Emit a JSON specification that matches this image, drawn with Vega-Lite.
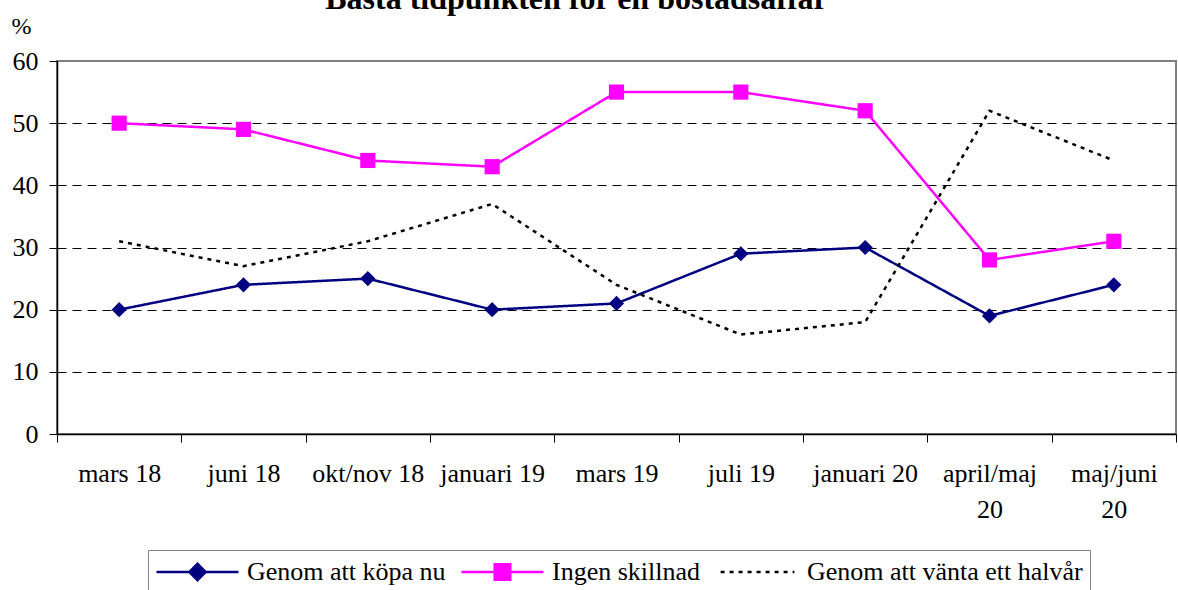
{
  "$schema": "https://vega.github.io/schema/vega-lite/v6.json",
  "autosize": {"type": "none"},
  "width": 1119,
  "height": 373,
  "padding": {"left": 57, "top": 61, "right": 2, "bottom": 156},
  "background": "white",
  "title": {
    "text": "Bästa tidpunkten för en bostadsaffär",
    "font": "Liberation Serif",
    "fontSize": 32,
    "fontWeight": "bold",
    "color": "black",
    "anchor": "middle",
    "dx": -40,
    "offset": -2
  },
  "config": {
    "font": "Liberation Serif",
    "view": {"stroke": "#808080", "strokeWidth": 2},
    "axis": {
      "labelFont": "Liberation Serif",
      "labelFontSize": 26,
      "labelColor": "black",
      "domainColor": "black",
      "domainWidth": 1.5,
      "tickColor": "black",
      "tickWidth": 1
    },
    "legend": {
      "labelFont": "Times New Roman",
      "labelFontSize": 26,
      "labelColor": "black",
      "labelLimit": 1000
    }
  },
  "data": {
    "values": [
      {"period": "mars 18", "series": "Genom att köpa nu", "value": 20},
      {"period": "juni 18", "series": "Genom att köpa nu", "value": 24},
      {"period": "okt/nov 18", "series": "Genom att köpa nu", "value": 25},
      {"period": "januari 19", "series": "Genom att köpa nu", "value": 20},
      {"period": "mars 19", "series": "Genom att köpa nu", "value": 21},
      {"period": "juli 19", "series": "Genom att köpa nu", "value": 29},
      {"period": "januari 20", "series": "Genom att köpa nu", "value": 30},
      {"period": "april/maj 20", "series": "Genom att köpa nu", "value": 19},
      {"period": "maj/juni 20", "series": "Genom att köpa nu", "value": 24},
      {"period": "mars 18", "series": "Ingen skillnad", "value": 50},
      {"period": "juni 18", "series": "Ingen skillnad", "value": 49},
      {"period": "okt/nov 18", "series": "Ingen skillnad", "value": 44},
      {"period": "januari 19", "series": "Ingen skillnad", "value": 43},
      {"period": "mars 19", "series": "Ingen skillnad", "value": 55},
      {"period": "juli 19", "series": "Ingen skillnad", "value": 55},
      {"period": "januari 20", "series": "Ingen skillnad", "value": 52},
      {"period": "april/maj 20", "series": "Ingen skillnad", "value": 28},
      {"period": "maj/juni 20", "series": "Ingen skillnad", "value": 31},
      {"period": "mars 18", "series": "Genom att vänta ett halvår", "value": 31},
      {"period": "juni 18", "series": "Genom att vänta ett halvår", "value": 27},
      {"period": "okt/nov 18", "series": "Genom att vänta ett halvår", "value": 31},
      {"period": "januari 19", "series": "Genom att vänta ett halvår", "value": 37},
      {"period": "mars 19", "series": "Genom att vänta ett halvår", "value": 24},
      {"period": "juli 19", "series": "Genom att vänta ett halvår", "value": 16},
      {"period": "januari 20", "series": "Genom att vänta ett halvår", "value": 18},
      {"period": "april/maj 20", "series": "Genom att vänta ett halvår", "value": 52},
      {"period": "maj/juni 20", "series": "Genom att vänta ett halvår", "value": 44}
    ]
  },
  "encoding": {
    "x": {
      "field": "period",
      "type": "ordinal",
      "sort": ["mars 18", "juni 18", "okt/nov 18", "januari 19", "mars 19", "juli 19", "januari 20", "april/maj 20", "maj/juni 20"],
      "scale": {"type": "band", "paddingInner": 0, "paddingOuter": 0},
      "axis": {
        "title": null,
        "labelAngle": 0,
        "tickBand": "extent",
        "tickSize": 8,
        "labelPadding": 18,
        "labelBaseline": "top",
        "labelLineHeight": 36,
        "labelExpr": "datum.label == 'april/maj 20' ? ['april/maj', '20'] : datum.label == 'maj/juni 20' ? ['maj/juni', '20'] : datum.label"
      }
    },
    "y": {
      "field": "value",
      "type": "quantitative",
      "scale": {"domain": [0, 60], "nice": false},
      "axis": {
        "values": [0, 10, 20, 30, 40, 50, 60],
        "title": "%",
        "titleAngle": 0,
        "titleFont": "Liberation Serif",
        "titleFontSize": 24,
        "titleFontWeight": "normal",
        "titleColor": "black",
        "titleAlign": "left",
        "titleBaseline": "alphabetic",
        "titleX": -46,
        "titleY": -28,
        "tickSize": 8,
        "labelPadding": 11,
        "grid": true,
        "gridColor": {"condition": {"test": "datum.value == 0 || datum.value == 60", "value": "transparent"}, "value": "black"},
        "gridDash": [9, 6],
        "gridWidth": 1
      }
    }
  },
  "layer": [
    {
      "mark": {"type": "line", "strokeWidth": 2.5},
      "encoding": {
        "color": {
          "field": "series",
          "type": "nominal",
          "sort": ["Genom att köpa nu", "Ingen skillnad", "Genom att vänta ett halvår"],
          "scale": {
            "domain": ["Genom att köpa nu", "Ingen skillnad", "Genom att vänta ett halvår"],
            "range": ["#000080", "#FF00FF", "#000000"]
          },
          "legend": {
            "title": null,
            "orient": "none",
            "legendX": 91,
            "legendY": 489,
            "direction": "horizontal",
            "columns": 3,
            "columnPadding": 14,
            "labelFont": "Times New Roman",
            "labelFontSize": 26,
            "labelColor": "black",
            "labelLimit": 1000,
            "labelOffset": 7,
            "symbolSize": 6724,
            "symbolStrokeWidth": 2.5,
            "clipHeight": 30,
            "strokeColor": "#808080",
            "fillColor": "white",
            "padding": 7,
            "encode": {
              "labels": {
                "update": {
                  "font": {"value": "serif"}
                }
              },
              "symbols": {
                "update": {
                  "shape": {"signal": "datum.value == 'Genom att köpa nu' ? 'M-1,0H1M0,-0.2L0.2,0L0,0.2L-0.2,0Z' : datum.value == 'Ingen skillnad' ? 'M-1,0H1M-0.19,-0.19H0.19V0.19H-0.19Z' : 'M-0.9,0H0.9'"},
                  "fill": {"signal": "datum.value == 'Genom att köpa nu' ? '#000080' : datum.value == 'Ingen skillnad' ? '#FF00FF' : 'transparent'"},
                  "strokeDash": {"signal": "datum.value == 'Genom att vänta ett halvår' ? [4, 5] : [1, 0]"}
                }
              }
            }
          }
        },
        "strokeDash": {
          "field": "series",
          "type": "nominal",
          "scale": {
            "domain": ["Genom att köpa nu", "Ingen skillnad", "Genom att vänta ett halvår"],
            "range": [[1, 0], [1, 0], [4, 5]]
          },
          "legend": null
        }
      }
    },
    {
      "transform": [{"filter": "datum.series != 'Genom att vänta ett halvår'"}],
      "mark": {"type": "point", "filled": true, "opacity": 1, "size": 230},
      "encoding": {
        "color": {"field": "series", "type": "nominal", "legend": null},
        "shape": {
          "field": "series",
          "type": "nominal",
          "scale": {"domain": ["Genom att köpa nu", "Ingen skillnad"], "range": ["diamond", "square"]},
          "legend": null
        }
      }
    }
  ]
}
